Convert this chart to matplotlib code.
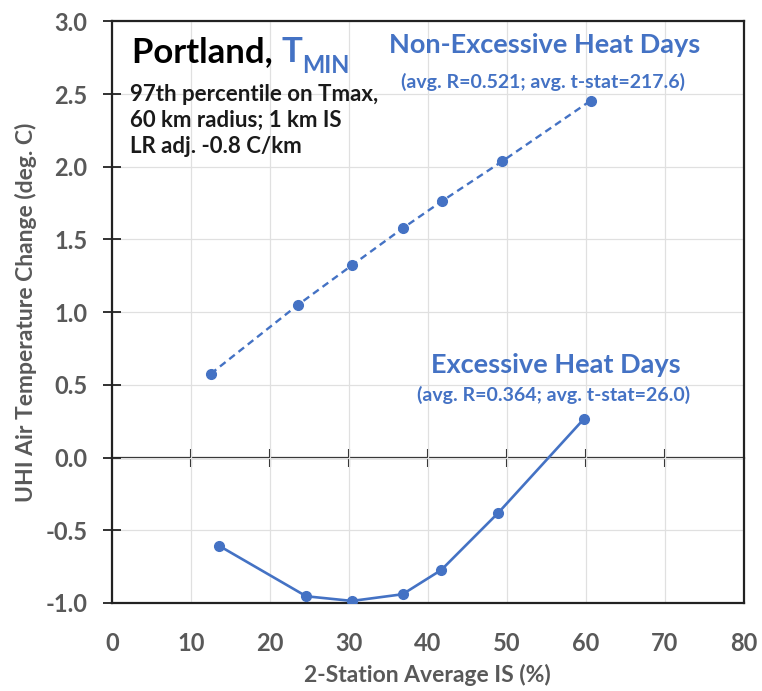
import matplotlib
matplotlib.use("Agg")
import matplotlib.pyplot as plt

plt.rcParams['font.family'] = ['Lato', 'DejaVu Sans']

# 2-station average impervious surface (%) and UHI change (deg C)
non_exc_is = [12.5, 23.5, 30.4, 36.9, 41.8, 49.4, 60.6]
non_exc_dt = [0.576, 1.048, 1.323, 1.580, 1.764, 2.037, 2.454]

exc_is = [13.6, 24.6, 30.4, 36.8, 41.7, 48.9, 59.8]
exc_dt = [-0.608, -0.954, -0.986, -0.940, -0.773, -0.381, 0.268]

x_ticks = [0, 10, 20, 30, 40, 50, 60, 70, 80]
y_ticks = [-1.0, -0.5, 0.0, 0.5, 1.0, 1.5, 2.0, 2.5, 3.0]

blue = '#4472C4'
grey = '#595959'

fig = plt.figure(figsize=(7.62, 6.91), dpi=100)
ax = fig.add_axes([0.147, 0.1274, 0.829, 0.8417])

ax.plot(non_exc_is, non_exc_dt, color=blue, lw=1.7, ls=(0, (3, 2)),
        marker='o', ms=7, zorder=3)
ax.plot(exc_is, exc_dt, color=blue, lw=1.9, marker='o', ms=7, zorder=3)

ax.set_xlim(0, 80)
ax.set_ylim(-1, 3)
ax.set_xticks(x_ticks)
ax.set_yticks(y_ticks)
ax.set_yticklabels([f'{v:.1f}' for v in y_ticks])
ax.grid(True, color='#e0e0e0', lw=0.9)
ax.set_axisbelow(True)

for s in ax.spines.values():
    s.set_color('#222222')
    s.set_linewidth(1.6)

ax.tick_params(axis='x', length=0, pad=21, labelsize=17, labelcolor=grey)
ax.tick_params(axis='y', direction='inout', length=13, width=1.3,
               color='#222222', pad=11, labelsize=17, labelcolor=grey)
for lbl in ax.get_xticklabels() + ax.get_yticklabels():
    lbl.set_fontweight('bold')

# zero line carrying the x ticks
zero = ax.secondary_xaxis(0.25)
zero.set_xticks([10, 20, 30, 40, 50, 60, 70])
zero.tick_params(direction='inout', length=13, width=1.5, color='#222222',
                 labelbottom=False)
zero.spines['bottom'].set_linewidth(1.6)
zero.spines['bottom'].set_color('#222222')

ax.set_xlabel('2-Station Average IS (%)', fontsize=16.5, fontweight='bold',
              color=grey, labelpad=6)
ax.set_ylabel('UHI Air Temperature Change (deg. C)', fontsize=16.5,
              fontweight='bold', color=grey, labelpad=6)

# title block
t1 = ax.text(2.5, 2.79, 'Portland, ', fontsize=25, fontweight='bold',
             color='black', va='center')
t2 = ax.annotate('T', xy=(1, 0), xycoords=t1, va='bottom', ha='left',
                 fontsize=25, fontweight='bold', color=blue)
ax.annotate('MIN', xy=(1, 0), xycoords=t2, xytext=(0, -6.5),
            textcoords='offset points', va='bottom', ha='left',
            fontsize=17, fontweight='bold', color=blue)

ax.text(2.3, 2.32, '97th percentile on Tmax,\n60 km radius; 1 km IS\nLR adj. -0.8 C/km',
        fontsize=16, fontweight='bold', color='#1a1a1a', va='center',
        linespacing=1.3)

ax.text(54.8, 2.84, 'Non-Excessive Heat Days', fontsize=19.5, fontweight='bold',
        color=blue, ha='center', va='center')
ax.text(54.6, 2.585, '(avg. R=0.521; avg. t-stat=217.6)', fontsize=14,
        fontweight='bold', color=blue, ha='center', va='center')

ax.text(56.2, 0.64, 'Excessive Heat Days', fontsize=19.5, fontweight='bold',
        color=blue, ha='center', va='center')
ax.text(55.9, 0.433, '(avg. R=0.364; avg. t-stat=26.0)', fontsize=14,
        fontweight='bold', color=blue, ha='center', va='center')

fig.savefig('out.png', dpi=100)
